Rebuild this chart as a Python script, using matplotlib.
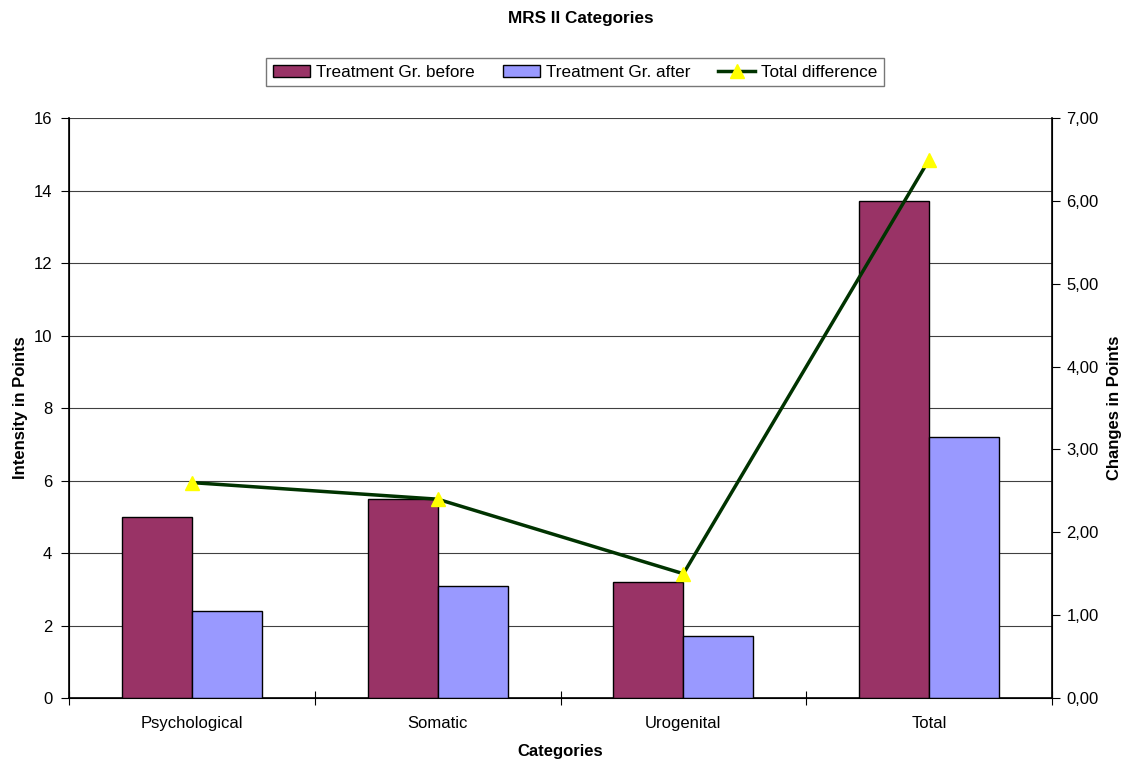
import matplotlib.pyplot as plt
import numpy as np
from matplotlib.ticker import FuncFormatter

categories = ["Psychological", "Somatic", "Urogenital", "Total"]
before = [5.0, 5.5, 3.2, 13.7]
after = [2.4, 3.1, 1.7, 7.2]
difference = [2.6, 2.4, 1.5, 6.5]

plt.rcParams['font.family'] = ['Liberation Sans', 'DejaVu Sans']

fig = plt.figure(figsize=(11.26, 7.63), dpi=100)
ax = fig.add_axes([0.0613, 0.0852, 0.873, 0.760])
ax2 = ax.twinx()

x = np.arange(len(categories))
w = 0.285
ax.bar(x - w / 2, before, w, color="#993366", edgecolor="black", linewidth=1,
       label="Treatment Gr. before", zorder=3)
ax.bar(x + w / 2, after, w, color="#9999FF", edgecolor="black", linewidth=1,
       label="Treatment Gr. after", zorder=3)

ax.set_xlim(-0.5, len(categories) - 0.5)
ax.set_ylim(0, 16)
ax.set_yticks(range(0, 17, 2))
ax.yaxis.grid(True, color="black", linewidth=0.8, alpha=0.75, zorder=0)
ax.set_axisbelow(True)

# category ticks sit on the group boundaries, labels in the middle
ax.set_xticks(np.arange(-0.5, len(categories), 1.0))
ax.set_xticklabels([])
ax.set_xticks(x, minor=True)
ax.set_xticklabels(categories, minor=True)
ax.tick_params(axis="x", which="major", direction="inout", length=10, width=0.8)
ax.tick_params(axis="x", which="minor", length=0, pad=13, labelsize=12)
ax.tick_params(axis="y", direction="out", length=6, width=0.8, labelsize=12, pad=6)

ax.spines["top"].set_visible(False)
ax2.spines["top"].set_visible(False)
ax.spines["left"].set_linewidth(1.2)
ax.spines["bottom"].set_linewidth(1.2)
ax2.spines["right"].set_linewidth(1.2)

ax2.plot(x, difference, color="#003300", linewidth=2.5, marker="^",
         markersize=10, markerfacecolor="yellow", markeredgecolor="yellow",
         label="Total difference", zorder=4)
ax2.set_ylim(0, 7)
ax2.set_yticks(range(0, 8))
ax2.yaxis.set_major_formatter(FuncFormatter(lambda v, p: f"{v:.2f}".replace(".", ",")))
ax2.tick_params(axis="y", direction="out", length=6, width=0.8, labelsize=12, pad=4.5)

ax.set_ylabel("Intensity in Points", fontsize=12, fontweight="bold")
ax.yaxis.set_label_coords(-0.0418, 0.5)
ax2.set_ylabel("Changes in Points", fontsize=12, fontweight="bold")
ax2.yaxis.set_label_coords(1.0564, 0.5)
ax.set_xlabel("Categories", fontsize=12, fontweight="bold", labelpad=9)

fig.suptitle("MRS II Categories", x=0.516, y=0.976, va="center", fontsize=12.3,
             fontweight="bold")

h1, l1 = ax.get_legend_handles_labels()
h2, l2 = ax2.get_legend_handles_labels()
leg = fig.legend(h1 + h2, l1 + l2, loc="center", bbox_to_anchor=(0.511, 0.9056),
                 ncol=3, frameon=True, fancybox=False, fontsize=12.3,
                 handlelength=2.16, handleheight=0.7, handletextpad=0.35,
                 columnspacing=1.64, borderpad=0.4, borderaxespad=0)
leg.get_frame().set_edgecolor("#555555")
leg.get_frame().set_linewidth(1)

fig.savefig("out.png", dpi=100)
